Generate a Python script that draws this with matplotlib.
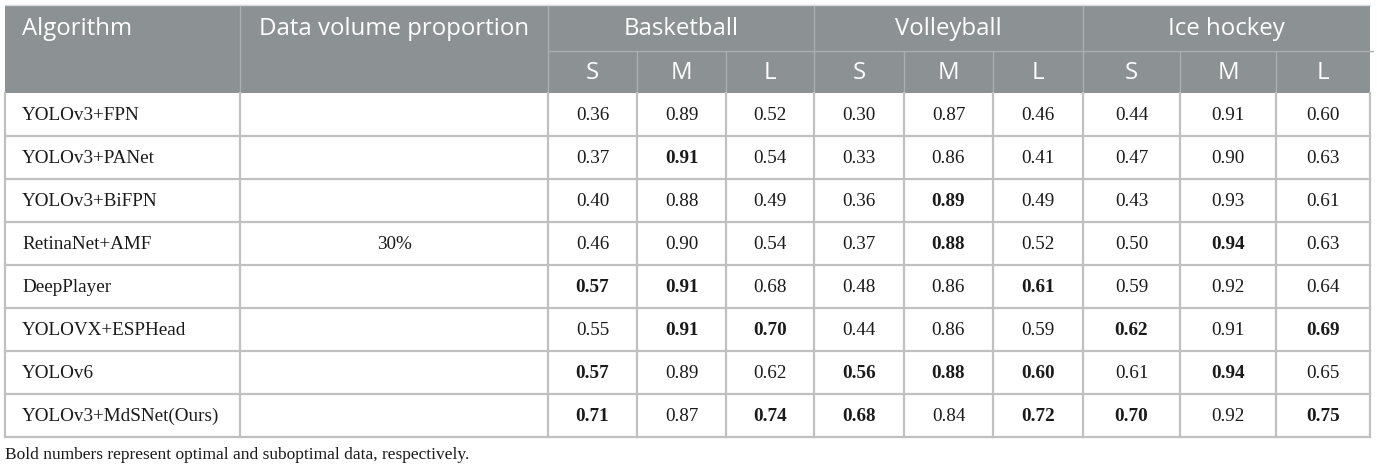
import matplotlib
matplotlib.use("Agg")
import matplotlib.pyplot as plt
from matplotlib.patches import Rectangle

# ---- data ----
algorithms = ["YOLOv3+FPN", "YOLOv3+PANet", "YOLOv3+BiFPN", "RetinaNet+AMF",
              "DeepPlayer", "YOLOVX+ESPHead", "YOLOv6", "YOLOv3+MdSNet(Ours)"]
sports = ["Basketball", "Volleyball", "Ice hockey"]
sizes = ["S", "M", "L"]
proportion = "30%"
proportion_row = 3
basketball = [[0.36, 0.89, 0.52], [0.37, 0.91, 0.54], [0.40, 0.88, 0.49], [0.46, 0.90, 0.54],
              [0.57, 0.91, 0.68], [0.55, 0.91, 0.70], [0.57, 0.89, 0.62], [0.71, 0.87, 0.74]]
volleyball = [[0.30, 0.87, 0.46], [0.33, 0.86, 0.41], [0.36, 0.89, 0.49], [0.37, 0.88, 0.52],
              [0.48, 0.86, 0.61], [0.44, 0.86, 0.59], [0.56, 0.88, 0.60], [0.68, 0.84, 0.72]]
icehockey = [[0.44, 0.91, 0.60], [0.47, 0.90, 0.63], [0.43, 0.93, 0.61], [0.50, 0.94, 0.63],
             [0.59, 0.92, 0.64], [0.62, 0.91, 0.69], [0.61, 0.94, 0.65], [0.70, 0.92, 0.75]]
bold_basketball = [[0, 0, 0], [0, 1, 0], [0, 0, 0], [0, 0, 0], [1, 1, 0], [0, 1, 1], [1, 0, 0], [1, 0, 1]]
bold_volleyball = [[0, 0, 0], [0, 0, 0], [0, 1, 0], [0, 1, 0], [0, 0, 1], [0, 0, 0], [1, 1, 1], [1, 0, 1]]
bold_icehockey = [[0, 0, 0], [0, 0, 0], [0, 0, 0], [0, 1, 0], [0, 0, 0], [1, 0, 1], [0, 1, 0], [1, 0, 1]]
headers = ["Algorithm", "Data volume proportion"]
caption = "Bold numbers represent optimal and suboptimal data, respectively."

# ---- layout (pixels) ----
W, H = 1377, 470
fig = plt.figure(figsize=(W / 100, H / 100), dpi=100)
ax = fig.add_axes([0, 0, 1, 1])
ax.set_xlim(0, W)
ax.set_ylim(H, 0)
ax.axis("off")

left, right = 5, 1370
top, hmid, hbot = 5, 51, 93
row_h = 43.0
nrows = len(algorithms)
bottom = hbot + row_h * nrows
col_alg_end = 240
col_data_end = 548
sport_edges = [548, 814, 1083, 1370]
sub_edges = [[548, 637, 726, 814], [814, 904, 993, 1083], [1083, 1180, 1276, 1370]]

header_bg = "#8c9193"
header_line = "#a9aeb0"
body_line = "#c0c0c0"
sans = ["Open Sans", "DejaVu Sans"]
serif = ["Liberation Serif", "DejaVu Serif"]

# header background
ax.add_patch(Rectangle((left, top), right - left, hbot - top, facecolor=header_bg, edgecolor="none", zorder=1))

# header lines
for x in [col_alg_end, col_data_end, sport_edges[1], sport_edges[2]]:
    ax.plot([x, x], [top, hbot], color=header_line, lw=1.0, zorder=2)
ax.plot([col_data_end, right + 3], [hmid, hmid], color=header_line, lw=1.0, zorder=2)
for edges in sub_edges:
    for x in edges[1:-1]:
        ax.plot([x, x], [hmid, hbot], color=header_line, lw=1.0, zorder=2)

# header texts
hfs = 17.3
ax.text(22, (top + hmid) / 2 + 1, headers[0], ha="left", va="center", color="white", fontsize=hfs, family=sans, zorder=3)
ax.text((col_alg_end + col_data_end) / 2, (top + hmid) / 2 + 1, headers[1], ha="center", va="center",
        color="white", fontsize=hfs, family=sans, zorder=3)
for s, name in enumerate(sports):
    ax.text((sport_edges[s] + sport_edges[s + 1]) / 2, (top + hmid) / 2 + 1, name, ha="center", va="center",
            color="white", fontsize=hfs, family=sans, zorder=3)
    for k, sz in enumerate(sizes):
        ax.text((sub_edges[s][k] + sub_edges[s][k + 1]) / 2, (hmid + hbot) / 2 + 1, sz, ha="center",
                va="center", color="white", fontsize=hfs, family=sans, zorder=3)

# body lines
for i in range(1, nrows + 1):
    y = hbot + row_h * i
    ax.plot([left, right], [y, y], color=body_line, lw=1.6, zorder=2)
all_v = [left, col_alg_end, col_data_end] + sub_edges[0][1:] + sub_edges[1][1:] + sub_edges[2][1:]
for x in all_v:
    ax.plot([x, x], [hbot, bottom], color=body_line, lw=1.6, zorder=2)
# outer light border around header
ax.plot([left, right], [top, top], color="#d8d8d8", lw=1.0, zorder=2)

# body texts
dfs = 13.8
series = [basketball, volleyball, icehockey]
bolds = [bold_basketball, bold_volleyball, bold_icehockey]
for i, name in enumerate(algorithms):
    yc = hbot + row_h * (i + 0.5) + 1
    ax.text(22, yc, name, ha="left", va="center", color="#1a1a1a", fontsize=dfs, family=serif, zorder=3)
    if i == proportion_row:
        ax.text((col_alg_end + col_data_end) / 2, yc, proportion, ha="center", va="center",
                color="#1a1a1a", fontsize=dfs, family=serif, zorder=3)
    for s in range(3):
        for k in range(3):
            v = series[s][i][k]
            ax.text((sub_edges[s][k] + sub_edges[s][k + 1]) / 2, yc, f"{v:.2f}", ha="center", va="center",
                    color="#1a1a1a", fontsize=dfs, family=serif,
                    fontweight="bold" if bolds[s][i][k] else "normal", zorder=3)

ax.text(5, 455, caption, ha="left", va="center", color="#1a1a1a", fontsize=12.5, family=serif)

fig.savefig("out.png", dpi=100)
